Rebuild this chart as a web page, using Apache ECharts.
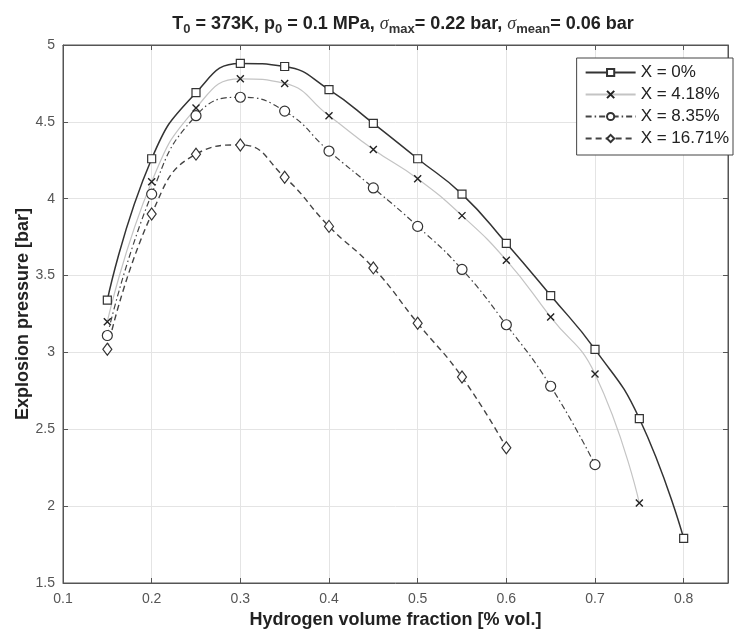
<!DOCTYPE html>
<html><head><meta charset="utf-8">
<script src="https://cdn.jsdelivr.net/npm/echarts@6/dist/echarts.min.js"></script>
<style>html,body{margin:0;padding:0;background:#fff}#c{width:742px;height:631px}</style>
</head><body><div id="c"></div>
<script>
const xValues0 = [0.15,0.2,0.25,0.3,0.35,0.4,0.45,0.5,0.55,0.6,0.65,0.7,0.75,0.8];
const yX0 = [3.34,4.26,4.69,4.88,4.86,4.71,4.49,4.26,4.03,3.71,3.37,3.02,2.57,1.79];
const yX418 = [3.20,4.11,4.59,4.78,4.75,4.54,4.32,4.13,3.89,3.60,3.23,2.86,2.02];
const yX835 = [3.11,4.03,4.54,4.66,4.57,4.31,4.07,3.82,3.54,3.18,2.78,2.27];
const yX1671 = [3.02,3.90,4.29,4.35,4.14,3.82,3.55,3.19,2.84,2.38];
const seriesNames = ['X = 0%','X = 4.18%','X = 8.35%','X = 16.71%'];

function pairs(ys){ return ys.map((y,i)=>[xValues0[i], y]); }
const crossPath = 'path://M0,0L10,10M10,0L0,10';
const FONT = 'Liberation Sans, Arial, sans-serif';

const frameAxis = {
  axisLine:{show:true, lineStyle:{color:'#555'}},
  axisTick:{show:true, inside:true, length:5, lineStyle:{color:'#555'}},
  axisLabel:{show:false}, splitLine:{show:false}
};

const chart = echarts.init(document.getElementById('c'));
chart.setOption({
  animation:false,
  backgroundColor:'#fff',
  title:{
    text:'T{sub|0} = 373K, p{sub|0} = 0.1 MPa, {sig|σ}{sub|max}= 0.22 bar, {sig|σ}{sub|mean}= 0.06 bar',
    left:398, top:8, textAlign:'center',
    textStyle:{fontFamily:FONT, fontSize:18, fontWeight:'bold', color:'#222',
      rich:{
        sub:{fontSize:13, fontWeight:'bold', color:'#333', verticalAlign:'bottom', padding:[10,0,0,0], fontFamily:FONT},
        sig:{fontSize:18, fontStyle:'italic', fontWeight:'normal', color:'#333', fontFamily:'Liberation Serif, serif'}
      }}
  },
  grid:{left:63, top:45, right:14, bottom:48, show:true, borderColor:'#555', borderWidth:1, backgroundColor:'#fff',
        outerBoundsMode:'none', containLabel:false},
  legend:{
    orient:'vertical', right:9, top:58,
    data:seriesNames,
    itemWidth:50, itemHeight:9, itemGap:5,
    padding:[6,4,8,8],
    backgroundColor:'#fff', borderColor:'#444', borderWidth:1, borderRadius:0,
    textStyle:{fontFamily:FONT, fontSize:17, color:'#222'}
  },
  xAxis:[{
    type:'value', min:0.1, max:0.85, interval:0.1,
    name:'Hydrogen volume fraction [% vol.]', nameLocation:'middle', nameGap:28, nameMoveOverlap:false,
    nameTextStyle:{fontFamily:FONT, fontSize:18, fontWeight:'bold', color:'#222'},
    axisLine:{show:true, lineStyle:{color:'#555'}},
    axisTick:{inside:true, length:5, lineStyle:{color:'#555'}},
    axisLabel:{fontFamily:FONT, fontSize:14, color:'#555', margin:9,
      formatter:v=> (Math.abs(v-0.85)<1e-6 ? '' : String(Math.round(v*10)/10))},
    splitLine:{show:true, lineStyle:{color:'#e4e4e4'}}
  }, Object.assign({type:'value', position:'top', min:0.1, max:0.85, interval:0.1}, frameAxis)],
  yAxis:[{
    type:'value', min:1.5, max:5, interval:0.5,
    name:'Explosion pressure [bar]', nameLocation:'middle', nameGap:31, nameMoveOverlap:false,
    nameTextStyle:{fontFamily:FONT, fontSize:18, fontWeight:'bold', color:'#222'},
    axisLine:{show:true, lineStyle:{color:'#555'}},
    axisTick:{inside:true, length:5, lineStyle:{color:'#555'}},
    axisLabel:{fontFamily:FONT, fontSize:14, color:'#555', margin:8},
    splitLine:{show:true, lineStyle:{color:'#e4e4e4'}}
  }, Object.assign({type:'value', position:'right', min:1.5, max:5, interval:0.5}, frameAxis)],
  series:[
    {name:seriesNames[0], type:'line', data:pairs(yX0), smooth:0.5,
     symbol:'rect', symbolSize:8,
     lineStyle:{color:'#333', width:1.5, type:'solid'},
     itemStyle:{color:'#fff', borderColor:'#333', borderWidth:1.2}},
    {name:seriesNames[1], type:'line', data:pairs(yX418), smooth:0.5,
     symbol:crossPath, symbolSize:7,
     lineStyle:{color:'#c4c4c4', width:1.2, type:'solid'},
     itemStyle:{color:'#fff', borderColor:'#222', borderWidth:1.4}},
    {name:seriesNames[2], type:'line', data:pairs(yX835), smooth:0.5,
     symbol:'circle', symbolSize:10,
     lineStyle:{color:'#444', width:1.2, type:[6,3,1.5,3]},
     itemStyle:{color:'#fff', borderColor:'#333', borderWidth:1.2}},
    {name:seriesNames[3], type:'line', data:pairs(yX1671), smooth:0.5,
     symbol:'diamond', symbolSize:[9,12],
     lineStyle:{color:'#444', width:1.4, type:[6,4]},
     itemStyle:{color:'#fff', borderColor:'#333', borderWidth:1.2}}
  ]
});
</script>
</body></html>
